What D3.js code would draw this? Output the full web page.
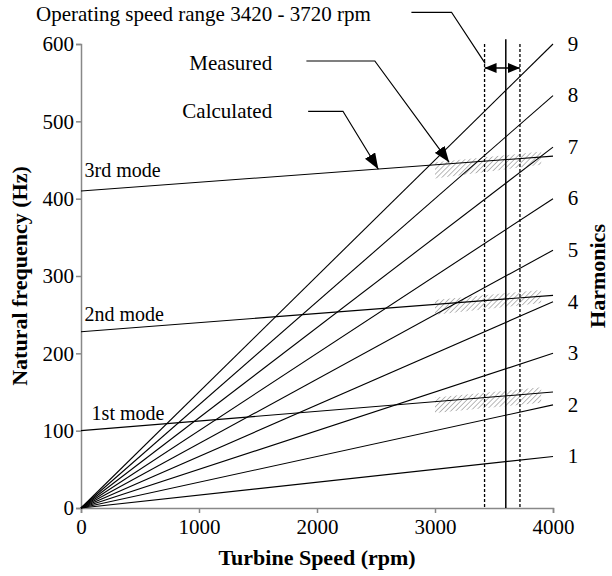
<!DOCTYPE html>
<html>
<head>
<meta charset="utf-8">
<script src="https://cdn.jsdelivr.net/npm/d3@7"></script>
<style>
body { margin: 0; background: #fff; }
text { font-family: "Liberation Serif", "Times New Roman", serif; }
</style>
</head>
<body>
<svg></svg>
<script>
// chart data
let harmonics = [1, 2, 3, 4, 5, 6, 7, 8, 9]
let speedMax = 4000
let modeNames = ['1st mode', '2nd mode', '3rd mode']
let modeStart = [100, 228, 410]   // Hz at 0 rpm
let modeEnd = [150, 275, 455]     // Hz at 4000 rpm
let measuredSpeed = [3000, 3900]
let measuredLow = [[123, 136], [250, 265], [426, 444]]
let measuredHigh = [[143, 156], [269, 282], [447, 461]]
let opRange = [3420, 3720]
let opSpeed = 3600
let xTicks = [0, 1000, 2000, 3000, 4000]
let yTicks = [0, 100, 200, 300, 400, 500, 600]

let width = 612
let height = 576

let svg = d3.select('svg')
    .attr('width', width)
    .attr('height', height)

let xScale = d3.scaleLinear().domain([0, 4000]).range([81, 553])
let yScale = d3.scaleLinear().domain([0, 600]).range([508, 44])

let defs = svg.append('defs')

// diagonal hatch for the measured bands
let pat = defs.append('pattern')
    .attr('id', 'hatch')
    .attr('patternUnits', 'userSpaceOnUse')
    .attr('width', 3.5)
    .attr('height', 3.5)
    .attr('patternTransform', 'rotate(45)')
pat.append('line')
    .attr('x1', 0).attr('y1', 0).attr('x2', 0).attr('y2', 3.5)
    .attr('stroke', '#8a8a8a')
    .attr('stroke-width', 1.2)

let marker = (id, w, h, orient) => {
    defs.append('marker')
        .attr('id', id)
        .attr('viewBox', '0 0 10 10')
        .attr('refX', 10)
        .attr('refY', 5)
        .attr('markerWidth', w)
        .attr('markerHeight', h)
        .attr('markerUnits', 'userSpaceOnUse')
        .attr('preserveAspectRatio', 'none')
        .attr('orient', orient)
        .append('path')
        .attr('d', 'M0,0 L10,5 L0,10 Z')
        .attr('fill', '#000')
}
marker('arrowBoth', 12, 10, 'auto-start-reverse')
marker('arrowBig', 16, 12, 'auto')

// axes
let xAxis = d3.axisBottom(xScale).tickValues(xTicks).tickSize(5).tickPadding(6).tickFormat(d3.format('d'))
let yAxis = d3.axisLeft(yScale).tickValues(yTicks).tickSize(5).tickPadding(2).tickFormat(d3.format('d'))

let gx = svg.append('g')
    .attr('transform', 'translate(0,' + yScale(0) + ')')
    .call(xAxis)
let gy = svg.append('g')
    .attr('transform', 'translate(' + xScale(0) + ',0)')
    .call(yAxis)

;[gx, gy].forEach((g) => {
    g.select('.domain').attr('stroke', '#888').attr('stroke-width', 1.5)
    g.selectAll('.tick line').attr('stroke', '#888').attr('stroke-width', 1.5)
    g.selectAll('.tick text')
        .attr('fill', '#000')
        .style('font-family', '"Liberation Serif", serif')
        .style('font-size', '21px')
})

// measured bands
let bandArea = d3.area()
    .x((d) => xScale(d[0]))
    .y0((d) => yScale(d[1]))
    .y1((d) => yScale(d[2]))

svg.selectAll('.band')
    .data(modeNames)
    .enter()
    .append('path')
    .attr('class', 'band')
    .attr('d', (d, i) => bandArea(measuredSpeed.map((s, j) => [s, measuredLow[i][j], measuredHigh[i][j]])))
    .attr('fill', 'url(#hatch)')

// harmonic lines
svg.selectAll('.harm')
    .data(harmonics)
    .enter()
    .append('line')
    .attr('class', 'harm')
    .attr('x1', xScale(0))
    .attr('y1', yScale(0))
    .attr('x2', xScale(speedMax))
    .attr('y2', (n) => yScale(n * speedMax / 60))
    .attr('stroke', '#000')
    .attr('stroke-width', 1.1)

svg.selectAll('.harmLabel')
    .data(harmonics)
    .enter()
    .append('text')
    .attr('class', 'harmLabel')
    .attr('x', xScale(speedMax) + 20)
    .attr('y', (n) => yScale(n * speedMax / 60) + 2)
    .attr('text-anchor', 'middle')
    .attr('dominant-baseline', 'middle')
    .style('font-size', '21px')
    .text((n) => n)

// calculated mode lines
svg.selectAll('.mode')
    .data(modeNames)
    .enter()
    .append('line')
    .attr('class', 'mode')
    .attr('x1', xScale(0))
    .attr('y1', (d, i) => yScale(modeStart[i]))
    .attr('x2', xScale(speedMax))
    .attr('y2', (d, i) => yScale(modeEnd[i]))
    .attr('stroke', '#000')
    .attr('stroke-width', 1.1)

svg.selectAll('.modeLabel')
    .data(modeNames)
    .enter()
    .append('text')
    .attr('class', 'modeLabel')
    .attr('x', (d, i) => xScale(i == 0 ? 90 : 30))
    .attr('y', (d, i) => yScale(modeStart[i]) - (i == 2 ? 14 : 11))
    .style('font-size', '20px')
    .text((d) => d)

// operating speed range
svg.selectAll('.opLine')
    .data(opRange)
    .enter()
    .append('line')
    .attr('class', 'opLine')
    .attr('x1', (d) => xScale(d))
    .attr('x2', (d) => xScale(d))
    .attr('y1', yScale(600))
    .attr('y2', yScale(0))
    .attr('stroke', '#000')
    .attr('stroke-width', 1.3)
    .attr('stroke-dasharray', '3,2')

svg.append('line')
    .attr('x1', xScale(opSpeed))
    .attr('x2', xScale(opSpeed))
    .attr('y1', yScale(606))
    .attr('y2', yScale(0))
    .attr('stroke', '#000')
    .attr('stroke-width', 1.5)

svg.append('line')
    .attr('x1', xScale(opRange[0]))
    .attr('x2', xScale(opRange[1]))
    .attr('y1', yScale(569))
    .attr('y2', yScale(569))
    .attr('stroke', '#000')
    .attr('stroke-width', 1.5)
    .attr('marker-start', 'url(#arrowBoth)')
    .attr('marker-end', 'url(#arrowBoth)')

// annotations
let leader = d3.line().x((d) => xScale(d[0])).y((d) => yScale(d[1]))

svg.append('text')
    .attr('x', 36)
    .attr('y', yScale(636))
    .attr('dominant-baseline', 'middle')
    .style('font-size', '21px')
    .text('Operating speed range 3420 - 3720 rpm')

svg.append('path')
    .attr('d', leader([[2800, 641], [3140, 641], [3425, 575]]))
    .attr('fill', 'none')
    .attr('stroke', '#000')
    .attr('stroke-width', 1.2)

svg.append('text')
    .attr('x', xScale(1620))
    .attr('y', yScale(572))
    .attr('text-anchor', 'end')
    .attr('dominant-baseline', 'middle')
    .style('font-size', '21px')
    .text('Measured')

svg.append('path')
    .attr('d', leader([[1910, 578], [2490, 578], [3120, 447]]))
    .attr('fill', 'none')
    .attr('stroke', '#000')
    .attr('stroke-width', 1.2)
    .attr('marker-end', 'url(#arrowBig)')

svg.append('text')
    .attr('x', xScale(1620))
    .attr('y', yScale(510))
    .attr('text-anchor', 'end')
    .attr('dominant-baseline', 'middle')
    .style('font-size', '21px')
    .text('Calculated')

svg.append('path')
    .attr('d', leader([[1925, 513], [2220, 513], [2520, 438]]))
    .attr('fill', 'none')
    .attr('stroke', '#000')
    .attr('stroke-width', 1.2)
    .attr('marker-end', 'url(#arrowBig)')

// axis titles
svg.append('text')
    .attr('x', (xScale(0) + xScale(4000)) / 2)
    .attr('y', 565)
    .attr('text-anchor', 'middle')
    .style('font-size', '22px')
    .style('font-weight', 'bold')
    .text('Turbine Speed (rpm)')

svg.append('text')
    .attr('transform', 'translate(27,' + yScale(300) + ') rotate(-90)')
    .attr('text-anchor', 'middle')
    .style('font-size', '22px')
    .style('font-weight', 'bold')
    .text('Natural frequency (Hz)')

svg.append('text')
    .attr('transform', 'translate(605,' + yScale(300) + ') rotate(-90)')
    .attr('text-anchor', 'middle')
    .style('font-size', '22px')
    .style('font-weight', 'bold')
    .text('Harmonics')
</script>
</body>
</html>
